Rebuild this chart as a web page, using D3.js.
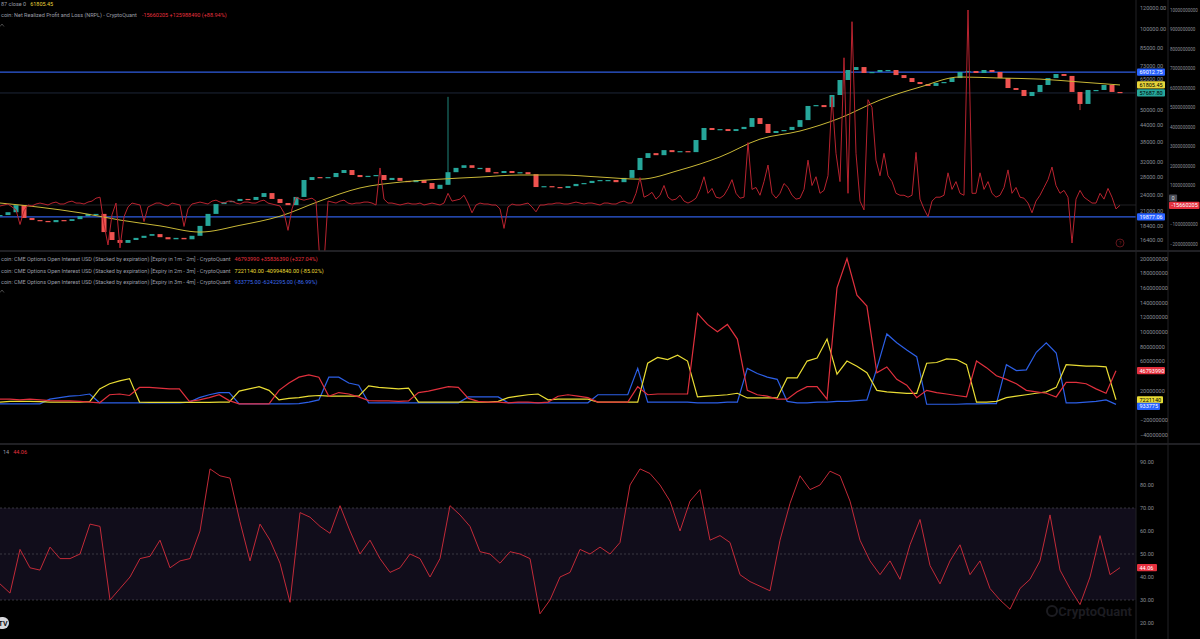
<!DOCTYPE html>
<html>
<head>
<meta charset="utf-8">
<script src="https://cdn.jsdelivr.net/npm/d3@7"></script>
<style>
  body { margin: 0; background: #000; }
  svg text { font-family: Roboto, 'Noto Sans', sans-serif; }
</style>
</head>
<body>
<svg width="1200" height="639"></svg>
<script>
// price candles (one close every sample), BTC USD
var priceCloses = [20200,20700,22000,19700,19350,19200,19000,19350,19200,19500,
  20000,20400,20400,17450,16300,15900,16300,16600,16900,17150,
  16700,16400,16600,16400,16900,18400,20400,22200,22600,22800,
  23200,23000,23600,24400,23200,22400,22000,23600,27300,28000,
  27800,28000,29000,29750,28500,28000,28300,28500,27300,27800,
  27100,26800,27300,26600,25300,26200,29200,30300,31000,30300,
  30300,29200,29000,29500,29000,29200,28700,25700,25900,25700,
  25500,25900,26400,26600,27100,27300,27300,26800,27800,29750,
  33000,34400,33800,35300,34700,35000,34700,38500,42700,41960,
  42300,41600,42300,43100,46500,44200,40900,41600,41960,43100,
  45700,51600,52000,51100,56700,64500,70300,72100,68500,69100,
  70300,70300,67300,65600,63400,62300,61300,62900,63400,65600,
  69100,69700,68500,70300,69100,65600,60200,59200,56200,58200,
  61800,65600,67900,66800,58200,52500,59200,59200,61800,58200,
  57700]
// long wicks
var priceWicks = [{ i: 56, high: 55800 }, { i: 135, low: 49800 }]
// moving average (yellow)
var priceMA = [22400,21600,20600,19350,18400,17450,18500,20000,22800,25500,
  26800,27500,28000,28500,28500,28000,27500,29750,33300,38800,
  41600,46500,54300,60700,66200,65600,65000,63400,61805]
var priceLevels = [69012.75, 19877.06]
var priceTicks = [120000,100000,85000,73000,65000,50000,44000,38000,32000,28000,24000,21000,18400,16400]

// NRPL, billions USD (twice as many samples as the candles)
var nrplValues = [-0.05,0,0.05,-0.1,-0.25,-1.0,-0.3,0,-0.05,0.05,
  0.1,0.05,0,0.1,0.15,0.05,0.05,0.15,0.2,0.1,
  0.1,0.05,0.15,0.2,0.35,0.4,-1.0,-2.05,-0.5,0.1,
  -2.2,-0.6,-0.1,0.1,0.05,0,-0.85,-0.1,0,0.1,
  0.1,0,-0.05,0.1,0.05,0,-1.1,-0.2,0.05,0.1,
  0.15,0.1,0.05,0.2,0.25,0.15,0.1,0.2,0.2,0.1,
  0.05,0.15,0.15,0.1,0.1,0.2,0.25,0.1,0.05,0,
  -0.05,-0.4,-1.3,-0.2,0.4,0.3,0.25,0.3,0.35,0.2,
  -3.0,-3.0,0.2,0.15,0.1,0.2,0.25,0.1,0.05,0.1,
  0.1,0.15,0.15,0.1,0,1.9,0.3,0.1,0.1,0.05,
  0,0.05,0.1,0.05,0.05,0.1,0,0.05,0.1,0.05,
  0,0.1,0.6,0.2,0.25,0.3,0.5,0.1,-0.4,0,
  0.1,0.05,0.05,0,0,-0.2,-1.2,-0.1,0.05,0,
  0,0.05,0.1,-0.1,-0.35,0,0,0.05,0.05,0.1,
  0.1,0.05,0.05,0.1,0.15,0.1,0.05,0.1,0.1,0.05,
  0,0.1,0.1,0.05,0.05,0.15,0.2,0.1,0.1,0.6,
  1.4,0.4,0.5,0.65,0.3,0.5,1.0,0.4,0.25,0.3,
  0.5,0.2,0.1,0.2,0.35,0.8,1.45,0.6,0.85,0.4,
  0.35,0.5,0.85,1.3,0.6,0.35,0.4,3.2,0.8,0.9,
  0.5,1.2,2.05,0.6,0.35,0.6,1.1,0.9,0.5,0.3,
  0.35,0.8,2.3,1.0,1.45,0.6,0.75,1.5,5.55,2.65,
  1.2,7.55,0.6,9.4,2.65,0.2,-0.25,5.4,5.0,2.3,
  1.5,2.65,1.5,1.2,0.6,0.5,0.5,0.4,0.5,2.7,
  0.3,-0.2,-0.6,0.2,0.4,0.4,0.5,1.65,0.8,1.2,
  0.6,0.5,10.0,0.6,0.6,1.65,0.8,1.2,0.6,0.4,
  0.5,0.9,1.8,0.6,0.9,0.4,0.35,0.1,-0.4,0.2,
  0.5,0.9,1.3,1.95,1.0,0.6,0.75,0.4,-1.95,0.3,
  0.75,0.4,0.25,0.1,0.1,0.6,0.3,0.85,0.4,-0.2,
  -0.016]
var nrplTicks = [-2,-1,1,2,3,4,5,6,7,8,9,10]

// CME options open interest, millions USD
var oiRed = [8,8,7,8,7,6,5.5,5.5,5,4,
  3,14,15,13,24,24,23,22,22,5,
  7,10,14,6,1.5,1.5,1.5,1.5,20,30,
  38,41,38,12,17,15,11,6,5.5,5.5,
  5,5.5,17,19,22,25,24,9,5,4,
  4,3,4,4,3,4,12,14,12,10,
  4,4,4,4,25,14,15,15,15,15,
  125,110,100,110,90,20,14,12,8,8,
  18,25,25,8,160,200,150,135,44,52,
  35,27,10,20,17,15,13,11,60,51,
  40,35,29,20,18,16,11,31,31,29,
  22,16,46.8]
var oiYellow = [4,5,5,5,4.5,4,4,4,4,4.5,
  22,29,33,36,4,3.5,3.5,3.5,3.5,3.5,
  3.5,3.5,4,4,19,22,25,20,7,9,
  10,12,13,12,12,12,12,26,24,23,
  22,23,4,4,4,4,4,4,4,4,
  5,10,12,14,15,7,8,8,8,8,
  4,4,4,4,4,57,65,62,68,60,
  11,12,13,14,16,9.6,9.6,9.6,9.6,37,
  37,60,64,90,42,60,53,44,20,18,
  17,16,16,57,58,63,62,55,4,4,
  5,10,12,14,16,18,24,55,54,53,
  53,52,7.2]
var oiBlue = [1.5,1.5,1.5,1.5,1.5,8,10,12,13,15,
  3,3,3,3,3,3,3,3,3,4,
  10,14,17,17,1.5,1.5,1.5,1.5,1.5,1.5,
  2,4,7,38,38,30,27,3,3,3,
  3,3,3,3,3,3,3,11,11,11,
  11,3,3,3,3,3,3,3,3,3,
  14,14,14,14,50,4,4,4,4,4,
  3,3,3,4,4,50,43,38,35,5,
  3,3,4,4,5,5,6,7,50,97,
  85,75,66,1,1,1,1,1.5,1.5,2,
  2,55,47,48,72,85,71,3,3,4,
  5,7,0.9]
// 0 and 40M sit under the value badges
var oiTicks = [-40,-20,20,60,80,100,120,140,160,180,200]

// RSI 14
var rsiValues = [37,33,52,44,43,53,48,48,50,63,
  62,30,35,40,48,49,56,44,47,48,
  60,87,84,83,64,47,63,56,46,29,
  68,66,62,59,71,60,50,56,48,42,
  44,50,48,40,48,71,67,62,51,50,
  46,51,50,48,24,30,40,42,52,50,
  53,50,55,80,87,85,80,73,60,73,
  78,56,58,55,41,38,36,34,56,72,
  84,78,80,86,84,73,56,47,41,47,
  39,54,65,45,37,47,54,41,47,35,
  30,26,35,39,47,67,43,35,28,40,
  58,41,44.06]
var rsiTicks = [20,30,40,50,60,70,80,90]

var svg = d3.select('svg')
var plotRight = 1136, axis2 = 1168
var textFill = '#8b8e97', fs = '5.5px'

var defs = svg.append('defs')
function clip(id, y, h) {
  defs.append('clipPath').attr('id', id).append('rect')
    .attr('x', 0).attr('y', y).attr('width', plotRight).attr('height', h)
}
clip('clipTop', 0, 251)
clip('clipMid', 252, 192)
clip('clipBot', 445, 194)

// scales
var xTop = d3.scaleLinear().domain([0, priceCloses.length - 1]).range([0, 1120])
var xNrpl = d3.scaleLinear().domain([0, nrplValues.length - 1]).range([0, 1120])
var xMA = d3.scaleLinear().domain([0, priceMA.length - 1]).range([0, 1120])
var xOi = d3.scaleLinear().domain([0, oiRed.length - 1]).range([0, 1116])
var xRsi = d3.scaleLinear().domain([0, rsiValues.length - 1]).range([0, 1120])
var yPrice = d3.scaleLog().domain([100000, 24000]).range([29, 195])
var yNrpl = d3.scaleLinear().domain([0, 1]).range([205, 185.5])
var yOi = d3.scaleLinear().domain([0, 200]).range([405, 258.5])
var yRsi = d3.scaleLinear().domain([50, 90]).range([554, 462])

// ---------- top pane ----------
var gTop = svg.append('g').attr('clip-path', 'url(#clipTop)')

gTop.append('line').attr('x1', 0).attr('x2', plotRight)
  .attr('y1', yNrpl(0)).attr('y2', yNrpl(0))
  .attr('stroke', '#2a2a2e').attr('stroke-width', 0.8)
gTop.append('line').attr('x1', 0).attr('x2', plotRight)
  .attr('y1', yPrice(priceCloses[priceCloses.length - 1])).attr('y2', yPrice(priceCloses[priceCloses.length - 1]))
  .attr('stroke', '#243046').attr('stroke-width', 0.8)

gTop.selectAll('line.level').data(priceLevels).enter().append('line')
  .attr('class', 'level')
  .attr('x1', 0).attr('x2', plotRight)
  .attr('y1', function(d) { return yPrice(d) }).attr('y2', function(d) { return yPrice(d) })
  .attr('stroke', '#2f5de0').attr('stroke-width', 1.3)

function openOf(i) { return i ? priceCloses[i - 1] : priceCloses[i] }

gTop.selectAll('line.wick').data(priceWicks).enter().append('line')
  .attr('class', 'wick')
  .attr('x1', function(d) { return xTop(d.i) }).attr('x2', function(d) { return xTop(d.i) })
  .attr('y1', function(d) { return yPrice(d.high || Math.max(openOf(d.i), priceCloses[d.i])) })
  .attr('y2', function(d) { return yPrice(d.low || Math.min(openOf(d.i), priceCloses[d.i])) })
  .attr('stroke', function(d) { return priceCloses[d.i] >= openOf(d.i) ? '#26a69a' : '#ef5350' })
  .attr('stroke-width', 0.8)

gTop.selectAll('rect.candle').data(priceCloses).enter().append('rect')
  .attr('class', 'candle')
  .attr('x', function(d, i) { return xTop(i) - 2.5 })
  .attr('width', 5)
  .attr('y', function(d, i) { return yPrice(Math.max(openOf(i), d)) })
  .attr('height', function(d, i) { return Math.max(1.2, Math.abs(yPrice(openOf(i)) - yPrice(d))) })
  .attr('fill', function(d, i) { return d >= openOf(i) ? '#26a69a' : '#ef5350' })

gTop.append('path').datum(priceMA)
  .attr('fill', 'none').attr('stroke', '#c9b837').attr('stroke-width', 1)
  .attr('d', d3.line().curve(d3.curveMonotoneX)
    .x(function(d, i) { return xMA(i) }).y(function(d) { return yPrice(d) }))

gTop.append('path').datum(nrplValues)
  .attr('fill', 'none').attr('stroke', '#b8232f').attr('stroke-width', 1)
  .attr('d', d3.line().x(function(d, i) { return xNrpl(i) }).y(function(d) { return yNrpl(d) }))

// ---------- middle pane ----------
var gMid = svg.append('g').attr('clip-path', 'url(#clipMid)')
var oiSeries = [
  { values: oiBlue, color: '#2c5fe6' },
  { values: oiYellow, color: '#e9dc34' },
  { values: oiRed, color: '#e0303d' }
]
gMid.selectAll('path.oi').data(oiSeries).enter().append('path')
  .attr('class', 'oi')
  .attr('fill', 'none').attr('stroke-width', 1.2)
  .attr('stroke', function(d) { return d.color })
  .attr('d', function(d) {
    return d3.line().x(function(v, i) { return xOi(i) }).y(function(v) { return yOi(v) })(d.values)
  })

// ---------- bottom pane ----------
var gBot = svg.append('g').attr('clip-path', 'url(#clipBot)')
gBot.append('rect').attr('x', 0).attr('width', plotRight)
  .attr('y', yRsi(70)).attr('height', yRsi(30) - yRsi(70))
  .attr('fill', '#110d1b')
gBot.selectAll('line.band').data([70, 50, 30]).enter().append('line')
  .attr('class', 'band')
  .attr('x1', 0).attr('x2', plotRight)
  .attr('y1', function(d) { return yRsi(d) }).attr('y2', function(d) { return yRsi(d) })
  .attr('stroke', '#4a4a55').attr('stroke-width', 0.7).attr('stroke-dasharray', '2,2')
gBot.append('path').datum(rsiValues)
  .attr('fill', 'none').attr('stroke', '#c22a38').attr('stroke-width', 1)
  .attr('d', d3.line().x(function(d, i) { return xRsi(i) }).y(function(d) { return yRsi(d) }))

// watermark
svg.append('text').attr('x', 1132).attr('y', 616).attr('text-anchor', 'end')
  .attr('fill', '#1c1c21').style('font-size', '13px').style('font-weight', 'bold').text('CryptoQuant')
svg.append('circle').attr('cx', 1052).attr('cy', 611).attr('r', 5)
  .attr('fill', 'none').attr('stroke', '#1c1c21').attr('stroke-width', 2)

// ---------- separators ----------
svg.selectAll('line.hsep').data([251, 444]).enter().append('line')
  .attr('class', 'hsep')
  .attr('x1', 0).attr('x2', 1200).attr('y1', function(d) { return d }).attr('y2', function(d) { return d })
  .attr('stroke', '#2b2b30').attr('stroke-width', 1.5)
svg.selectAll('line.vsep').data([plotRight, axis2]).enter().append('line')
  .attr('class', 'vsep')
  .attr('y1', 0).attr('y2', 639).attr('x1', function(d) { return d }).attr('x2', function(d) { return d })
  .attr('stroke', '#222226').attr('stroke-width', 1)

// ---------- axes ----------
function styleAxis(g, size) {
  g.select('.domain').remove()
  g.attr('font-size', size || fs).attr('font-family', null)
  g.selectAll('text').attr('fill', textFill)
}
svg.append('g').attr('transform', 'translate(' + plotRight + ',0)')
  .call(d3.axisRight(yPrice).tickValues(priceTicks).tickSize(0).tickPadding(4).tickFormat(d3.format('.2f')))
  .call(styleAxis)
svg.append('g').attr('transform', 'translate(' + axis2 + ',0)')
  .call(d3.axisRight(yNrpl).tickValues(nrplTicks).tickSize(0).tickPadding(2)
    .tickFormat(function(d) { return d3.format('d')(d * 1e9) }))
  .call(styleAxis, '4.5px')
svg.append('g').attr('transform', 'translate(' + plotRight + ',0)')
  .call(d3.axisRight(yOi).tickValues(oiTicks).tickSize(0).tickPadding(4)
    .tickFormat(function(d) { return d3.format('d')(d * 1e6) }))
  .call(styleAxis)
svg.append('g').attr('transform', 'translate(' + plotRight + ',0)')
  .call(d3.axisRight(yRsi).tickValues(rsiTicks).tickSize(0).tickPadding(4).tickFormat(d3.format('.2f')))
  .call(styleAxis)

// ---------- badges ----------
function badge(x, y, label, bg, fg, w) {
  var g = svg.append('g').attr('transform', 'translate(' + x + ',' + y + ')')
  var r = g.append('rect').attr('y', -3.6).attr('height', 7.2).attr('rx', 1).attr('fill', bg)
  var t = g.append('text').attr('x', 2.5).attr('dy', '0.35em').attr('fill', fg)
    .style('font-size', fs).text(label)
  r.attr('width', w || t.node().getComputedTextLength() + 5)
}
badge(plotRight + 1, yPrice(priceLevels[0]), '69012.75', '#2962ff', '#fff', 28)
badge(plotRight + 1, yPrice(priceMA[priceMA.length - 1]), '61805.45', '#e6d43a', '#000', 28)
badge(plotRight + 1, yPrice(priceCloses[priceCloses.length - 1]), '57687.80', '#26a69a', '#000', 28)
badge(plotRight + 1, yPrice(priceLevels[1]), '19877.06', '#2962ff', '#fff', 28)
badge(axis2 + 1, yNrpl(0) - 7, '0', '#4a4d57', '#ddd')
badge(axis2 + 1, yNrpl(nrplValues[nrplValues.length - 1]), '-15660205', '#e5303e', '#fff', 30.5)
badge(plotRight + 1, yOi(oiRed[oiRed.length - 1]), '46793990', '#e5303e', '#fff', 28)
badge(plotRight + 1, yOi(oiYellow[oiYellow.length - 1]), '7221140', '#e9dc34', '#000', 26)
badge(plotRight + 1, yOi(oiBlue[oiBlue.length - 1]) + 2, '933775', '#2962ff', '#fff', 23)
badge(plotRight + 1, yRsi(rsiValues[rsiValues.length - 1]), '44.06', '#e5303e', '#fff', 20)

// ---------- legends ----------
function legend(y, parts) {
  var t = svg.append('text').attr('x', 1).attr('y', y).style('font-size', fs)
  parts.forEach(function(p) {
    t.append('tspan').attr('fill', p[1]).attr('dx', p[2] || 0).text(p[0])
  })
}
legend(5.5, [['87 close 0', '#9a9da6'], ['61805.45', '#e6d43a', 4]])
legend(17, [['coin: Net Realized Profit and Loss (NRPL) - CryptoQuant', '#9a9da6'],
  ['-15660205 +125988490 (+88.94%)', '#e5303e', 5]])
var oiName = 'coin: CME Options Open Interest USD (Stacked by expiration) '
legend(261, [[oiName + '[Expiry in 1m - 2m] - CryptoQuant', '#9a9da6'], ['46793990 +35836390 (+327.04%)', '#e5303e', 4]])
legend(272.5, [[oiName + '[Expiry in 2m - 3m] - CryptoQuant', '#9a9da6'], ['7221140.00 -40994840.00 (-85.02%)', '#e9dc34', 4]])
legend(284, [[oiName + '[Expiry in 3m - 4m] - CryptoQuant', '#9a9da6'], ['933775.00 -6242295.00 (-86.99%)', '#3d6cf0', 4]])
legend(454, [['14', '#9a9da6', 2], ['44.06', '#e5303e', 4]])

// collapse arrows
svg.selectAll('path.chev').data([25, 291]).enter().append('path')
  .attr('class', 'chev')
  .attr('d', function(d) { return 'M0,' + (d + 1.5) + 'L2,' + (d - 1) + 'L4,' + (d + 1.5) })
  .attr('fill', 'none').attr('stroke', '#777').attr('stroke-width', 0.6)

// small red marker in the top pane
svg.append('circle').attr('cx', 1120).attr('cy', 243).attr('r', 4)
  .attr('fill', 'none').attr('stroke', '#7a1a22').attr('stroke-width', 0.8)
svg.append('text').attr('x', 1120).attr('y', 245).attr('text-anchor', 'middle')
  .attr('fill', '#7a1a22').style('font-size', fs).text('?')

// TV logo
svg.append('rect').attr('x', -4).attr('y', 617).attr('width', 13).attr('height', 12).attr('rx', 6)
  .attr('fill', '#d8d8dc')
svg.append('text').attr('x', 3).attr('y', 626).attr('text-anchor', 'middle')
  .attr('fill', '#111').style('font-size', '7px').style('font-weight', 'bold').text('TV')
</script>
</body>
</html>
